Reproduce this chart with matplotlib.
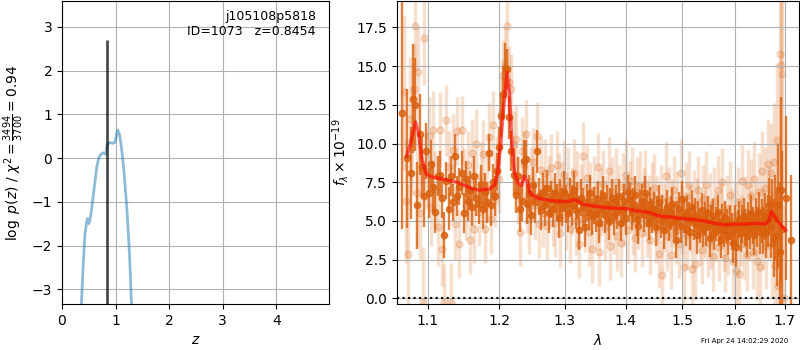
import numpy as np
import matplotlib
matplotlib.use("Agg")
from matplotlib import pyplot as plt
from matplotlib.ticker import FormatStrFormatter, NullFormatter

# redshift PDF (z, log p(z))
pz_z = [0.36, 0.40, 0.43, 0.46, 0.475, 0.50, 0.52, 0.55, 0.59, 0.62, 0.65,
        0.69, 0.74, 0.78, 0.82, 0.84, 0.87, 0.90, 0.95, 0.99, 1.02, 1.04,
        1.07, 1.10, 1.15, 1.21, 1.26, 1.30]
pz_logp = [-3.4, -2.34, -1.73, -1.45, -1.38, -1.5, -1.43, -1.2, -0.8, -0.5,
           -0.2, 0.02, 0.1, 0.12, 0.08, 0.3, 0.34, 0.35, 0.34, 0.36, 0.55,
           0.64, 0.55, 0.34, -0.2, -1.12, -2.18, -3.4]
z_best = 0.8454
logp_top = 2.7

# binned spectrum (dark points)
dark_wave = [1.066, 1.072, 1.077, 1.080, 1.083, 1.086, 1.089, 1.092, 1.095, 1.098,
             1.101, 1.104, 1.107, 1.110, 1.113, 1.116, 1.119, 1.122, 1.125, 1.128,
             1.131, 1.134, 1.137, 1.140, 1.143, 1.146, 1.149, 1.152, 1.155, 1.158,
             1.161, 1.164, 1.167, 1.170, 1.173, 1.176, 1.179, 1.182, 1.185, 1.188,
             1.191, 1.194, 1.197, 1.200, 1.203, 1.206, 1.209, 1.212, 1.215, 1.218,
             1.221, 1.224, 1.227, 1.230, 1.233, 1.236, 1.239, 1.242, 1.245, 1.248,
             1.251, 1.254, 1.257, 1.260, 1.263, 1.266, 1.269, 1.272, 1.275, 1.278,
             1.281, 1.284, 1.287, 1.290, 1.293, 1.296, 1.299, 1.302, 1.305, 1.308,
             1.311, 1.314, 1.317, 1.320, 1.323, 1.326, 1.329, 1.332, 1.335, 1.338,
             1.341, 1.344, 1.347, 1.350, 1.353, 1.356, 1.359, 1.362, 1.365, 1.368,
             1.371, 1.374, 1.377, 1.380, 1.383, 1.386, 1.389, 1.392, 1.395, 1.398,
             1.401, 1.404, 1.407, 1.410, 1.413, 1.416, 1.419, 1.422, 1.425, 1.428,
             1.431, 1.434, 1.437, 1.440, 1.443, 1.446, 1.449, 1.452, 1.455, 1.458,
             1.461, 1.464, 1.467, 1.470, 1.473, 1.476, 1.479, 1.482, 1.485, 1.488,
             1.491, 1.494, 1.497, 1.500, 1.503, 1.506, 1.509, 1.512, 1.515, 1.518,
             1.521, 1.524, 1.527, 1.530, 1.533, 1.536, 1.539, 1.542, 1.545, 1.548,
             1.551, 1.554, 1.557, 1.560, 1.563, 1.566, 1.569, 1.572, 1.575, 1.578,
             1.581, 1.584, 1.587, 1.590, 1.593, 1.596, 1.599, 1.602, 1.605, 1.608,
             1.611, 1.614, 1.617, 1.620, 1.623, 1.626, 1.629, 1.632, 1.635, 1.638,
             1.641, 1.644, 1.647, 1.650, 1.653, 1.656, 1.659, 1.662, 1.665, 1.668,
             1.671, 1.674, 1.677, 1.680, 1.683, 1.686, 1.689, 1.692, 1.695, 1.703,
             1.713]
dark_flux = [12.0, 9.05, 8.1, 12.9, 12.5, 6.0, 10.6, 8.5, 6.6, 9.5,
             6.8, 8.7, 7.2, 5.6, 7.9, 8.0, 6.5, 4.1, 7.6, 5.8,
             7.9, 6.2, 9.2, 6.6, 7.2, 8.1, 5.5, 7.7, 6.3, 7.0,
             5.9, 7.9, 6.5, 6.1, 7.4, 5.8, 6.9, 6.2, 9.4, 6.0,
             7.5, 6.6, 8.2, 9.8, 11.8, 13.2, 14.9, 14.8, 11.7, 9.5,
             8.0, 6.7, 7.9, 5.8, 6.3, 8.9, 9.0, 6.1, 6.8, 5.4,
             7.3, 6.2, 9.5, 6.6, 5.7, 6.9, 6.0, 7.1, 5.5, 6.4,
             5.8, 6.8, 6.2, 5.2, 6.5, 5.9, 6.9, 6.1, 5.5, 6.6,
             6.0, 7.0, 5.7, 6.3, 4.4, 6.5, 5.9, 4.6, 6.2, 5.6,
             6.8, 5.3, 6.0, 5.5, 6.4, 4.9, 5.8, 6.7, 5.4, 6.1,
             5.0, 5.9, 6.5, 5.3, 6.2, 5.6, 6.6, 4.9, 5.8, 6.3,
             5.2, 6.9, 6.4, 5.5, 6.0, 6.7, 5.1, 4.7, 5.9, 6.3,
             5.4, 6.8, 5.7, 4.9, 6.1, 5.3, 5.8, 4.6, 5.5, 6.2,
             5.0, 5.6, 4.4, 5.3, 5.9, 4.8, 5.5, 6.1, 5.0, 3.8,
             5.2, 5.8, 4.7, 6.4, 5.3, 4.5, 5.6, 5.1, 4.3, 5.9,
             4.9, 5.4, 4.1, 5.2, 4.7, 5.7, 4.4, 5.1, 4.6, 5.5,
             3.9, 4.9, 5.3, 4.2, 4.8, 5.6, 4.5, 3.8, 5.0, 4.4,
             5.2, 4.7, 4.0, 4.9, 4.3, 3.6, 4.8, 3.3, 4.5, 5.1,
             4.2, 4.8, 5.3, 4.6, 4.0, 5.0, 4.4, 5.5, 4.7, 4.1,
             5.2, 4.6, 5.6, 4.3, 5.0, 4.4, 5.3, 4.2, 5.0, 6.0,
             4.6, 5.5, 3.9, 5.2, 4.0, 6.0, 3.0, 7.0, 4.5, 6.5,
             3.8]
dark_err = [7.5, 4.5, 3.0, 3.5, 3.0, 2.8, 2.6, 2.0, 2.0, 1.8,
            1.6, 1.5, 1.6, 1.4, 1.3, 1.5, 1.3, 1.5, 1.2, 1.4,
            1.3, 1.2, 1.4, 1.3, 1.2, 1.4, 1.3, 1.2, 1.3, 1.2,
            1.2, 1.3, 1.2, 1.3, 1.2, 1.3, 1.2, 1.3, 1.2, 1.3,
            1.2, 1.3, 1.2, 1.3, 1.4, 1.5, 1.6, 1.3, 1.4, 1.3,
            1.3, 1.2, 1.2, 1.5, 1.3, 1.3, 1.2, 1.3, 1.2, 1.3,
            1.2, 1.3, 1.4, 1.2, 1.3, 1.2, 1.3, 1.2, 1.3, 1.2,
            1.2, 1.3, 1.2, 1.3, 1.2, 1.2, 1.3, 1.2, 1.2, 1.2,
            1.3, 1.2, 1.2, 1.2, 1.3, 1.2, 1.2, 1.3, 1.2, 1.2,
            1.2, 1.2, 1.2, 1.2, 1.2, 1.3, 1.2, 1.2, 1.2, 1.2,
            1.2, 1.2, 1.2, 1.2, 1.1, 1.1, 1.1, 1.2, 1.1, 1.1,
            1.1, 1.1, 1.1, 1.1, 1.1, 1.2, 1.1, 1.2, 1.1, 1.1,
            1.1, 1.1, 1.1, 1.1, 1.1, 1.1, 1.1, 1.2, 1.1, 1.1,
            1.1, 1.1, 1.2, 1.1, 1.1, 1.1, 1.1, 1.1, 1.1, 1.2,
            1.1, 1.1, 1.1, 1.2, 1.1, 1.1, 1.1, 1.1, 1.2, 1.1,
            1.1, 1.1, 1.2, 1.1, 1.1, 1.1, 1.1, 1.1, 1.2, 1.1,
            1.2, 1.1, 1.1, 1.1, 1.1, 1.1, 1.1, 1.2, 1.1, 1.1,
            1.1, 1.1, 1.2, 1.1, 1.2, 1.3, 1.2, 1.3, 1.2, 1.2,
            1.2, 1.2, 1.2, 1.2, 1.3, 1.2, 1.2, 1.2, 1.2, 1.3,
            1.3, 1.3, 1.3, 1.4, 1.4, 1.5, 1.5, 1.6, 1.7, 1.8,
            2.0, 2.2, 2.5, 2.8, 3.2, 4.0, 4.5, 6.0, 5.0, 5.3,
            4.2]

# individual beam spectra (faint points)
beam_wave = [1.068, 1.071, 1.074, 1.076, 1.079, 1.081, 1.083, 1.085, 1.087, 1.090,
             1.093, 1.095, 1.098, 1.101, 1.104, 1.107, 1.110, 1.113, 1.116, 1.119,
             1.122, 1.125, 1.128, 1.131, 1.134, 1.137, 1.140, 1.143, 1.146, 1.149,
             1.152, 1.155, 1.158, 1.161, 1.164, 1.167, 1.170, 1.173, 1.176, 1.179,
             1.182, 1.185, 1.188, 1.191, 1.194, 1.197, 1.200, 1.203, 1.206, 1.209,
             1.212, 1.215, 1.218, 1.221, 1.224, 1.227, 1.230, 1.233, 1.236, 1.239,
             1.242, 1.245, 1.248, 1.251, 1.254, 1.257, 1.260, 1.263, 1.266, 1.269,
             1.272, 1.275, 1.278, 1.281, 1.284, 1.287, 1.290, 1.293, 1.296, 1.299,
             1.302, 1.305, 1.308, 1.311, 1.314, 1.317, 1.320, 1.323, 1.326, 1.329,
             1.332, 1.335, 1.338, 1.341, 1.344, 1.347, 1.350, 1.353, 1.356, 1.359,
             1.362, 1.365, 1.368, 1.371, 1.374, 1.377, 1.380, 1.383, 1.386, 1.389,
             1.392, 1.395, 1.398, 1.401, 1.404, 1.407, 1.410, 1.413, 1.416, 1.419,
             1.422, 1.425, 1.428, 1.431, 1.434, 1.437, 1.440, 1.443, 1.446, 1.449,
             1.452, 1.455, 1.458, 1.461, 1.464, 1.467, 1.470, 1.473, 1.476, 1.479,
             1.482, 1.485, 1.488, 1.491, 1.494, 1.497, 1.500, 1.503, 1.506, 1.509,
             1.512, 1.515, 1.518, 1.521, 1.524, 1.527, 1.530, 1.533, 1.536, 1.539,
             1.542, 1.545, 1.548, 1.551, 1.554, 1.557, 1.560, 1.563, 1.566, 1.569,
             1.572, 1.575, 1.578, 1.581, 1.584, 1.587, 1.590, 1.593, 1.596, 1.599,
             1.602, 1.605, 1.608, 1.611, 1.614, 1.617, 1.620, 1.623, 1.626, 1.629,
             1.632, 1.635, 1.638, 1.641, 1.644, 1.647, 1.650, 1.653, 1.656, 1.659,
             1.662, 1.665, 1.668, 1.671, 1.674, 1.677, 1.680, 1.683, 1.686, 1.689,
             1.692, 1.695, 1.698]
beam_flux = [13.3, 6.3, 2.9, 11.6, 10.2, 13.5, 17.6, 6.8, 14.6, 5.5,
             -0.2, 16.8, 8.3, 10.5, 5.9, 10.9, 7.0, 4.6, 10.9, 3.2,
             -0.2, 11.5, 8.5, -0.2, 9.6, 4.8, 10.8, 3.5, 10.9, 7.5,
             6.0, 8.6, 3.8, 9.4, 4.5, 10.0, 5.6, 7.9, 9.3, 4.5,
             7.2, 10.4, 5.1, 11.2, 6.8, 8.3, 7.7, 12.0, 14.4, 15.2,
             17.6, 14.0, 13.5, 9.9, 10.3, 7.0, 4.3, 9.5, 8.6, 10.6,
             6.4, 5.1, 7.6, 8.8, 6.0, 10.5, 4.8, 8.3, 5.5, 8.1,
             4.7, 7.0, 8.4, 5.6, 4.9, 8.6, 7.2, 4.2, 6.7, 8.0,
             5.3, 7.6, 4.5, 6.3, 8.1, 5.0, 7.3, 3.5, 6.5, 9.2,
             5.2, 7.8, 4.3, 6.6, 3.2, 7.0, 5.4, 8.5, 3.0, 6.2,
             7.4, 4.6, 5.8, 8.2, 3.4, 6.9, 5.1, 7.5, 4.0, 6.4,
             3.6, 7.2, 5.6, 8.0, 4.4, 6.7, 7.6, 5.0, 3.9, 6.9,
             5.4, 7.3, 4.2, 6.2, 7.4, 4.9, 5.8, 3.8, 6.6, 7.1,
             4.5, 5.7, 2.9, 6.4, 1.5, 5.2, 7.9, 4.0, 6.3, 2.8,
             5.5, 7.0, 4.4, 6.0, 3.5, 8.1, 5.1, 2.0, 6.6, 4.1,
             7.3, 5.2, 1.9, 6.1, 2.2, 5.6, 7.0, 4.3, 3.1, 6.4,
             4.8, 7.3, 3.6, 5.9, 4.1, 2.7, 6.3, 4.6, 7.0, 3.3,
             5.4, 7.5, 4.0, 2.6, 5.8, 3.7, 6.7, 4.9, 2.4, 5.3,
             1.8, 6.2, 1.6, 4.4, 7.6, 3.5, 5.6, 2.8, 7.3, 4.7,
             6.6, 3.0, 7.7, 5.1, 2.4, 6.9, 2.0, 8.2, 4.5, 7.1,
             3.4, 8.7, 5.5, 8.1, 3.5, 8.8, 2.1, 10.2, 0.8, 15.8,
             15.1, 14.5, 0.0]
beam_err = [5.0, 4.0, 4.5, 4.0, 3.5, 3.0, 3.0, 3.5, 3.0, 3.0,
            3.5, 3.0, 2.5, 2.5, 2.5, 2.5, 2.5, 2.5, 2.4, 2.4,
            2.4, 2.3, 2.3, 2.5, 2.3, 2.3, 2.2, 2.2, 2.2, 2.2,
            2.2, 2.2, 2.2, 2.2, 2.2, 2.2, 2.2, 2.2, 2.2, 2.2,
            2.2, 2.2, 2.2, 2.2, 2.2, 2.2, 2.2, 2.3, 2.3, 2.3,
            2.3, 2.3, 2.3, 2.2, 2.2, 2.2, 2.2, 2.2, 2.2, 2.2,
            2.2, 2.2, 2.2, 2.2, 2.2, 2.2, 2.2, 2.2, 2.2, 2.2,
            2.2, 2.2, 2.2, 2.2, 2.2, 2.2, 2.2, 2.2, 2.2, 2.2,
            2.2, 2.2, 2.2, 2.2, 2.2, 2.2, 2.2, 2.2, 2.2, 2.2,
            2.2, 2.2, 2.2, 2.2, 2.2, 2.2, 2.2, 2.2, 2.2, 2.2,
            2.2, 2.2, 2.2, 2.2, 2.2, 2.2, 2.2, 2.2, 2.2, 2.2,
            2.2, 2.2, 2.2, 2.2, 2.2, 2.2, 2.2, 2.2, 2.2, 2.2,
            2.2, 2.2, 2.2, 2.2, 2.2, 2.2, 2.2, 2.2, 2.2, 2.2,
            2.2, 2.2, 2.2, 2.2, 2.3, 2.2, 2.2, 2.2, 2.2, 2.2,
            2.2, 2.2, 2.2, 2.2, 2.2, 2.2, 2.2, 2.3, 2.2, 2.2,
            2.2, 2.2, 2.3, 2.2, 2.3, 2.2, 2.2, 2.2, 2.2, 2.2,
            2.2, 2.2, 2.2, 2.2, 2.2, 2.2, 2.2, 2.2, 2.2, 2.2,
            2.2, 2.2, 2.2, 2.2, 2.2, 2.2, 2.2, 2.2, 2.3, 2.2,
            2.3, 2.3, 2.3, 2.3, 2.3, 2.3, 2.3, 2.3, 2.3, 2.3,
            2.4, 2.4, 2.4, 2.4, 2.5, 2.5, 2.5, 2.6, 2.6, 2.7,
            2.8, 2.9, 3.0, 3.2, 3.5, 3.8, 4.2, 5.0, 5.5, 8.0,
            8.0, 8.0, 6.0]

# best-fit model
model_wave = [1.072, 1.077, 1.081, 1.0836, 1.087, 1.092, 1.098, 1.105, 1.12, 1.14,
              1.16, 1.17, 1.185, 1.193, 1.198, 1.202, 1.206, 1.2117, 1.215, 1.218,
              1.222, 1.228, 1.233, 1.2365, 1.241, 1.246, 1.252, 1.26, 1.28, 1.30,
              1.31, 1.315, 1.32, 1.33, 1.35, 1.37, 1.40, 1.42, 1.44, 1.46,
              1.48, 1.50, 1.52, 1.54, 1.56, 1.58, 1.60, 1.62, 1.64, 1.66,
              1.667, 1.672, 1.678, 1.69, 1.7015]
model_flux = [9.2, 10.0, 10.9, 11.4, 10.8, 9.0, 8.0, 7.85, 7.7, 7.5,
              7.1, 7.0, 7.05, 7.3, 8.2, 10.0, 12.2, 14.6, 13.2, 10.5,
              8.2, 7.4, 7.3, 7.9, 7.6, 6.8, 6.6, 6.45, 6.3, 6.25,
              6.3, 6.38, 6.3, 6.05, 5.95, 5.85, 5.8, 5.65, 5.55, 5.3,
              5.25, 5.15, 5.1, 5.0, 4.85, 4.75, 4.8, 4.8, 4.85, 4.8,
              5.0, 5.6, 5.3, 4.8, 4.4]

spec_color = '#d9600d'

fig = plt.figure(figsize=(8, 3.5), dpi=100)

# p(z) panel
ax = fig.add_axes([0.0775, 0.131, 0.334, 0.866])
ax.plot(pz_z, pz_logp, color='C0', alpha=0.5, lw=2)
ax.vlines(z_best, -3.4, logp_top, color='k', alpha=0.7, lw=2)
ax.set_xlim(0, 4.99)
ax.set_ylim(-3.34, 3.59)
ax.set_xticks([0, 1, 2, 3, 4])
ax.set_xlabel(r'$z$')
ax.set_ylabel(r'$\log\ p(z)$ / $\chi^2=\frac{3494}{3700}=0.94$')
ax.text(0.95, 0.97, 'j105108p5818\nID=1073   z=0.8454', ha='right',
        va='top', fontsize=9, transform=ax.transAxes)
ax.grid()

# spectrum panel
ax = fig.add_axes([0.496, 0.131, 0.503, 0.866])
ax.errorbar(beam_wave, beam_flux, yerr=beam_err, fmt='o', color=spec_color,
            alpha=0.2, markersize=5, elinewidth=2.5, zorder=1)
ax.errorbar(dark_wave, dark_flux, yerr=dark_err, fmt='o', color=spec_color,
            alpha=0.8, markersize=4.5, elinewidth=1.7, zorder=2)
ax.plot(model_wave, model_flux, color='r', alpha=0.6, lw=2.5, zorder=3)
ax.axhline(0, color='k', ls=':', lw=1.5, zorder=4)
ax.set_xscale('log')
ax.set_xlim(1.059, 1.73)
ax.set_ylim(-0.37, 19.2)
ax.set_xticks([1.1, 1.2, 1.3, 1.4, 1.5, 1.6, 1.7])
ax.xaxis.set_major_formatter(FormatStrFormatter('%.1f'))
ax.xaxis.set_minor_formatter(NullFormatter())
ax.tick_params(axis='x', which='minor', length=0)
ax.set_xlabel(r'$\lambda$')
ax.set_ylabel(r'$f_\lambda\times10^{-19}$')
ax.grid()

fig.text(0.985, 0.018, 'Fri Apr 24 14:02:29 2020', ha='right', va='bottom',
         fontsize=5)

fig.savefig('out.png', dpi=100)
